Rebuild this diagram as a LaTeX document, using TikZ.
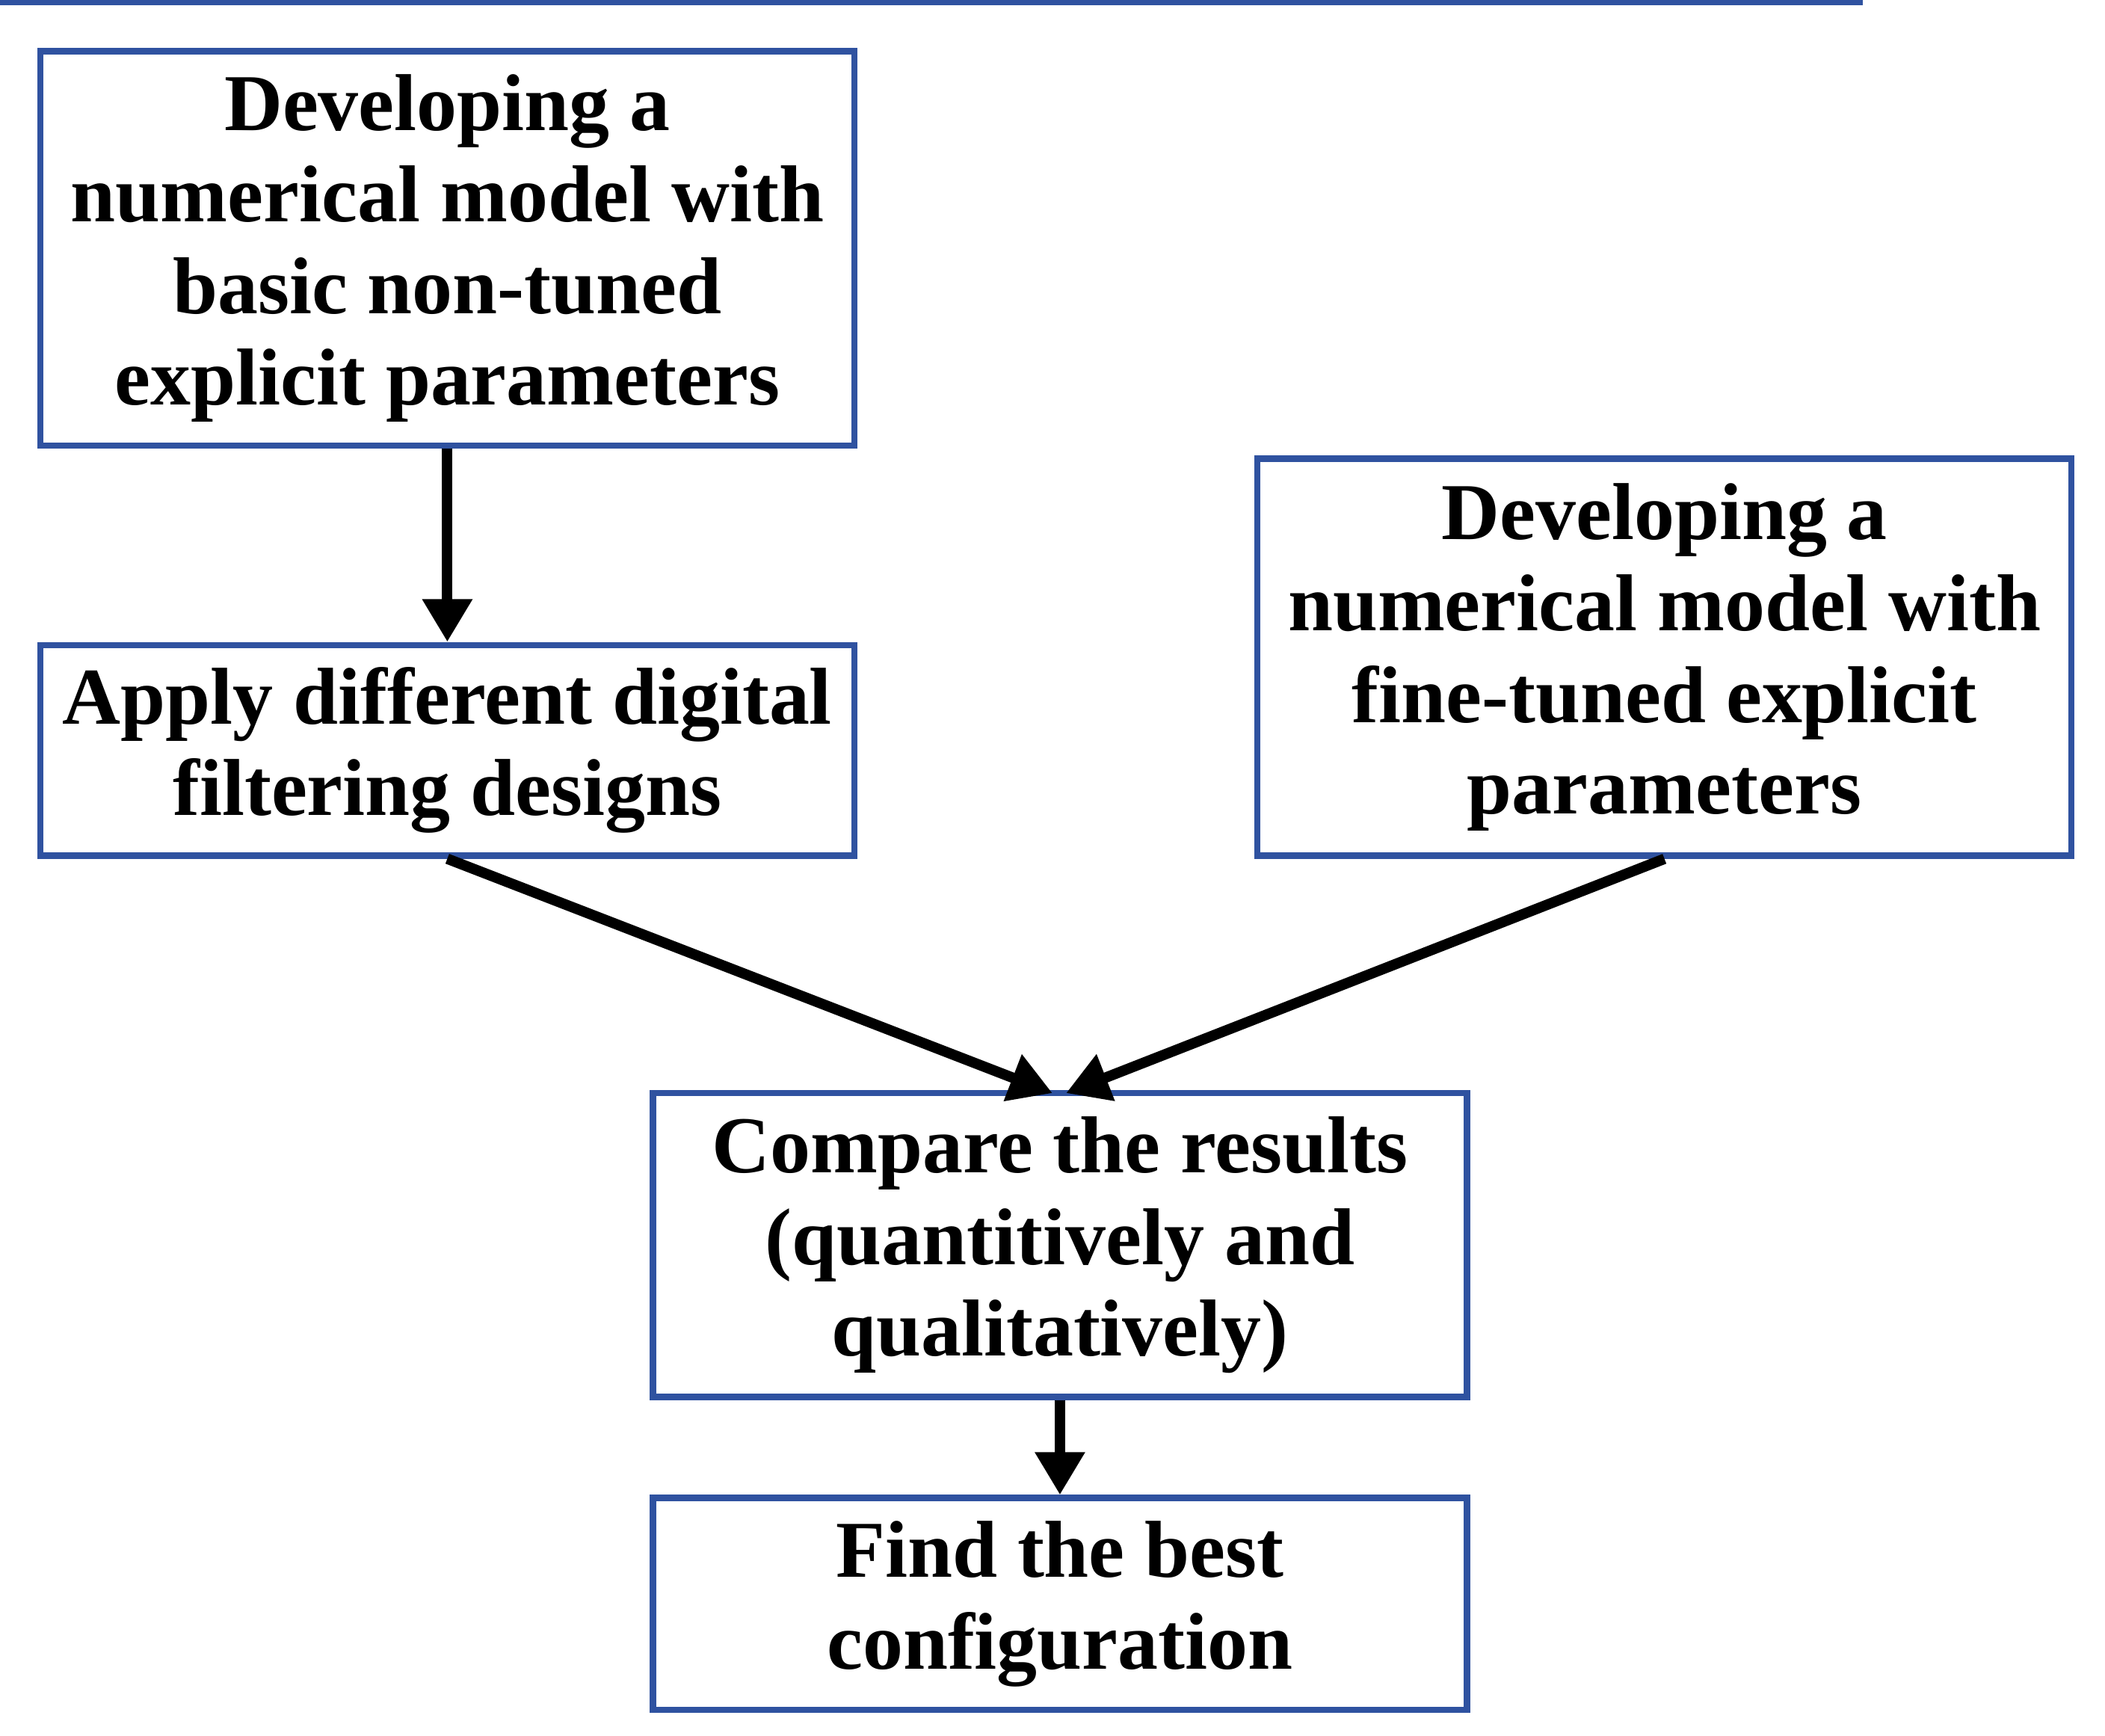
\documentclass[tikz,border=0pt]{standalone}
\usepackage{fontspec}
\setmainfont{Liberation Serif}
\usetikzlibrary{arrows.meta}
\definecolor{boxblue}{RGB}{47,82,160}
\begin{document}
\begin{tikzpicture}[x=0.01cm,y=-0.01cm,
  box/.style={draw=boxblue,line width=1.3pt,fill=white,inner sep=0pt,align=center,
    font=\fontsize{17}{19.3}\selectfont\bfseries},
  arr/.style={line width=2.2pt,-{Triangle[length=9pt,width=10pt]}}]
\useasboundingbox[fill=white] (0,0) rectangle (1560,1286);
\node[box,minimum width=603\pgflinewidth] at (0,0) {};
\node[box,minimum width=6.03cm,minimum height=2.92cm] (a) at (331.5,184) {Developing a\\numerical model with\\basic non-tuned\\explicit parameters};
\node[box,minimum width=6.03cm,minimum height=1.56cm] (b) at (331.5,556) {Apply different digital\\filtering designs};
\node[box,minimum width=6.03cm,minimum height=2.94cm] (c) at (1233.5,487) {Developing a\\numerical model with\\fine-tuned explicit\\parameters};
\node[box,minimum width=6.03cm,minimum height=2.25cm] (d) at (785.5,922.5) {Compare the results\\(quantitively and\\qualitatively)};
\node[box,minimum width=6.03cm,minimum height=1.57cm] (e) at (785.5,1188.5) {Find the best\\configuration};
\coordinate (d1) at (780,810);
\coordinate (d2) at (790,810);
\draw[arr] (a.south) -- (b.north);
\draw[arr] (b.south) -- (d1);
\draw[arr] (c.south) -- (d2);
\draw[arr] (d.south) -- (e.north);
\end{tikzpicture}
\end{document}
